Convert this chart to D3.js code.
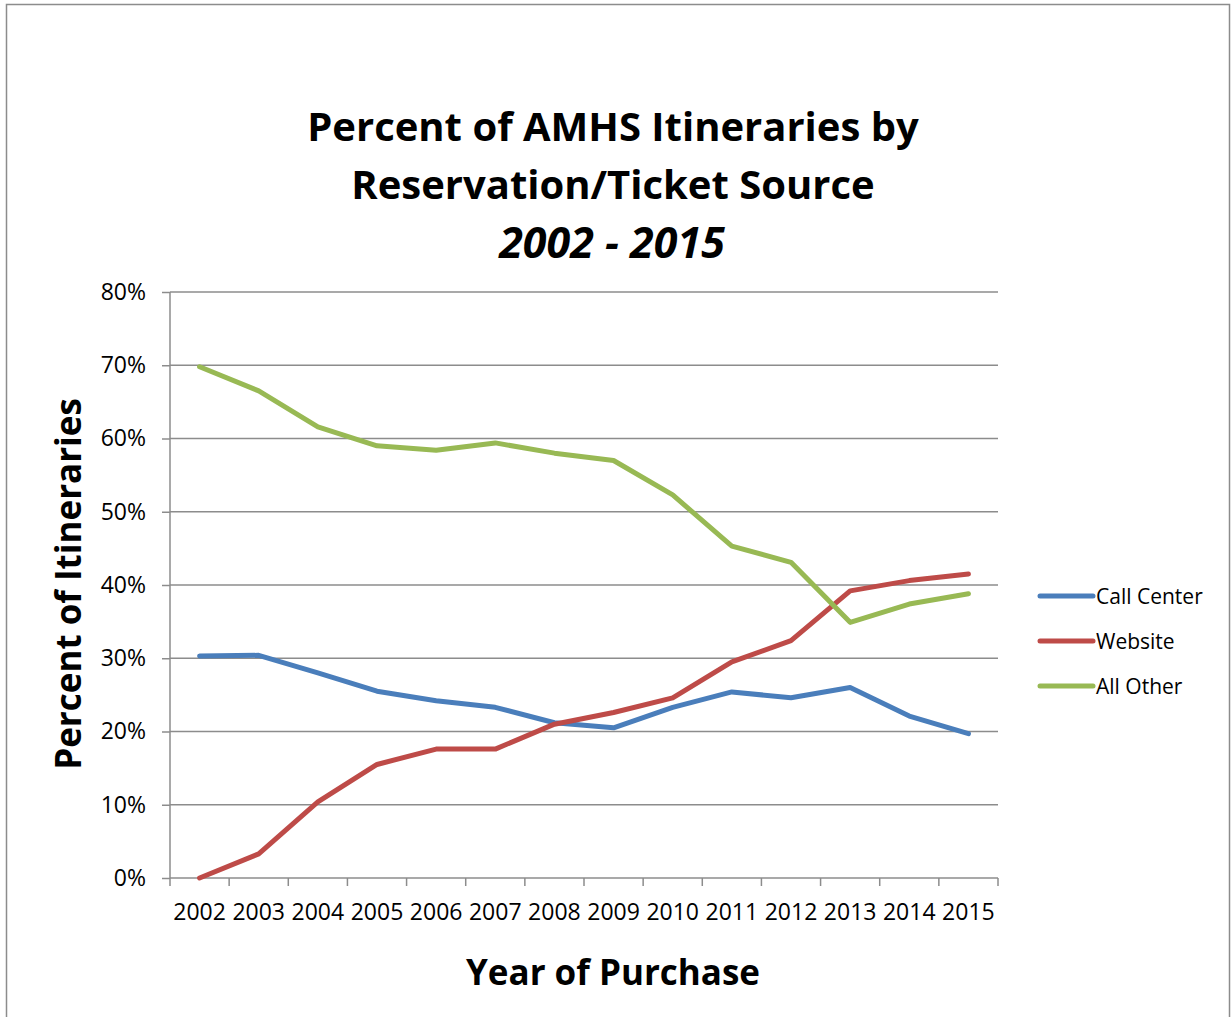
<!DOCTYPE html>
<html>
<head>
<meta charset="utf-8">
<script src="https://cdn.jsdelivr.net/npm/d3@7"></script>
<style>
  html, body { margin: 0; padding: 0; background: #fff; }
  svg { display: block; }
  text { font-family: "Open Sans", "Lato", sans-serif; fill: #000; }
</style>
</head>
<body>
<svg id="chart" width="1232" height="1017"></svg>
<script>
const years = ["2002","2003","2004","2005","2006","2007","2008","2009","2010","2011","2012","2013","2014","2015"];
const callCenter = [30.3, 30.4, 28.0, 25.5, 24.2, 23.3, 21.2, 20.5, 23.3, 25.4, 24.6, 26.0, 22.1, 19.7];
const website    = [0.0, 3.3, 10.4, 15.5, 17.6, 17.6, 21.0, 22.6, 24.6, 29.5, 32.4, 39.2, 40.6, 41.5];
const allOther   = [69.8, 66.5, 61.6, 59.0, 58.4, 59.4, 58.0, 57.0, 52.3, 45.3, 43.1, 34.9, 37.4, 38.8];
const seriesNames = ["Call Center", "Website", "All Other"];
const seriesColors = ["#4A7EBB", "#BE4B48", "#98B954"];
const yTicks = [0, 10, 20, 30, 40, 50, 60, 70, 80];
const titleLines = ["Percent of AMHS Itineraries by", "Reservation/Ticket Source", "2002 - 2015"];

const series = [callCenter, website, allOther].map((v, i) => ({ name: seriesNames[i], color: seriesColors[i], values: v }));

const svg = d3.select("#chart");
const plot = { left: 170, right: 998, top: 292, bottom: 878 };

// outer frame
svg.append("rect").attr("x", 6.5).attr("y", 4.5).attr("width", 1223).attr("height", 1030)
  .attr("fill", "#fff").attr("stroke", "#8c8c8c").attr("stroke-width", 1.5);

const x = d3.scaleBand().domain(years).range([plot.left, plot.right]).padding(0);
const y = d3.scaleLinear().domain([0, 80]).range([plot.bottom, plot.top]);

// gridlines
svg.append("g").selectAll("line").data(yTicks.filter(t => t > 0)).join("line")
  .attr("x1", plot.left).attr("x2", plot.right)
  .attr("y1", d => y(d)).attr("y2", d => y(d))
  .attr("stroke", "#8c8c8c").attr("stroke-width", 1.5);

// y axis
const yAxis = svg.append("g").attr("transform", `translate(${plot.left},0)`)
  .call(d3.axisLeft(y).tickValues(yTicks).tickFormat(d => d + "%").tickSize(8).tickPadding(16));
yAxis.selectAll("path,line").attr("stroke", "#8c8c8c").attr("stroke-width", 1.5);
yAxis.select(".domain").attr("d", `M0,${plot.top}V${plot.bottom}`);
yAxis.selectAll("text").attr("font-size", 23).attr("font-family", "Open Sans").attr("fill", "#000");

// x axis with ticks at category boundaries
const xAxisG = svg.append("g").attr("transform", `translate(0,${plot.bottom})`);
xAxisG.append("line").attr("x1", plot.left).attr("x2", plot.right).attr("y1", 0).attr("y2", 0)
  .attr("stroke", "#8c8c8c").attr("stroke-width", 1.5);
const boundaries = years.map(d => x(d)).concat([x(years[years.length - 1]) + x.bandwidth()]);
xAxisG.selectAll("line.tk").data(boundaries).join("line").attr("class", "tk")
  .attr("x1", d => d).attr("x2", d => d).attr("y1", 0).attr("y2", 8)
  .attr("stroke", "#8c8c8c").attr("stroke-width", 1.5);
xAxisG.selectAll("text").data(years).join("text")
  .attr("x", d => x(d) + x.bandwidth() / 2).attr("y", 42)
  .attr("text-anchor", "middle").attr("font-size", 23).text(d => d);

// lines
const line = d3.line().x((d, i) => x(years[i]) + x.bandwidth() / 2).y(d => y(d));
svg.append("g").selectAll("path").data(series).join("path")
  .attr("d", d => line(d.values))
  .attr("fill", "none").attr("stroke", d => d.color).attr("stroke-width", 5)
  .attr("stroke-linejoin", "round").attr("stroke-linecap", "round");

// title
const title = svg.append("g");
title.append("text").attr("x", 613).attr("y", 141).attr("text-anchor", "middle")
  .attr("font-size", 40).attr("font-weight", "bold").text(titleLines[0]);
title.append("text").attr("x", 613).attr("y", 199).attr("text-anchor", "middle")
  .attr("font-size", 40).attr("font-weight", "bold").text(titleLines[1]);
title.append("text").attr("x", 612).attr("y", 258).attr("text-anchor", "middle")
  .attr("font-size", 43).attr("font-weight", "bold").attr("font-style", "italic").text(titleLines[2]);

// axis titles
svg.append("text").attr("x", 613).attr("y", 985).attr("text-anchor", "middle")
  .attr("font-size", 35).attr("font-weight", "bold").text("Year of Purchase");
svg.append("text").attr("transform", "translate(81,584) rotate(-90)").attr("text-anchor", "middle")
  .attr("font-size", 35).attr("font-weight", "bold").text("Percent of Itineraries");

// legend
const legendY = [596, 641, 686];
const lg = svg.append("g").selectAll("g").data(series).join("g")
  .attr("transform", (d, i) => `translate(1038,${legendY[i]})`);
lg.append("line").attr("x1", 2).attr("x2", 55).attr("y1", 0).attr("y2", 0)
  .attr("stroke", d => d.color).attr("stroke-width", 5).attr("stroke-linecap", "round");
lg.append("text").attr("x", 58).attr("y", 7.5).attr("font-size", 21).text(d => d.name);
</script>
</body>
</html>
